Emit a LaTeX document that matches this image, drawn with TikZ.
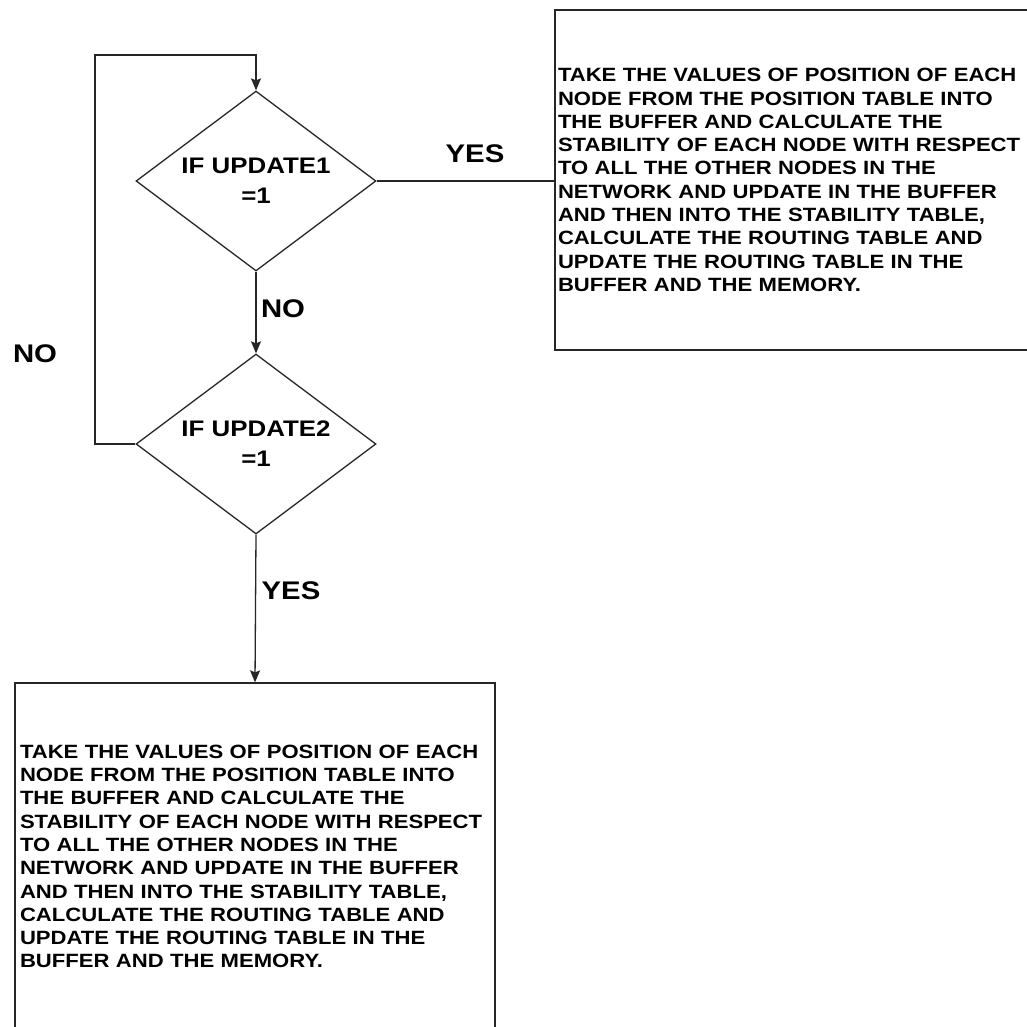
\documentclass[tikz,border=0pt]{standalone}
\usepackage{fontspec}
\newfontfamily\arb{Liberation Sans}[FakeStretch=1.15]
\usetikzlibrary{shapes.geometric,arrows.meta}
\begin{document}
\begin{tikzpicture}[x=1pt,y=-1pt,
  line/.style={draw=black!85,line width=1.3pt},
  arr/.style={line,-{Stealth[length=12pt,width=10pt,inset=2pt]}},
  decision/.style={line,shape=diamond,inner sep=0pt,minimum width=240pt,minimum height=180pt,aspect=1.333,
     align=center,font=\arb\bfseries\fontsize{22.5}{30}\selectfont},
  procbox/.style={line,rectangle,inner sep=0pt,align=left,
     font=\arb\bfseries\fontsize{19.2}{23.3}\selectfont},
  lbl/.style={inner sep=0pt,font=\arb\bfseries\fontsize{25.5}{28}\selectfont}]
\clip (0,0) rectangle (1027,1026);
\fill[white] (0,0) rectangle (1027,1026);

\node[decision] (d1) at (256,181) {IF UPDATE1\\=1};
\node[decision] (d2) at (256,444) {IF UPDATE2\\=1};

\node[procbox,minimum width=490pt,minimum height=340pt,text width=484pt,inner xsep=3pt] (b1) at (800,180)
 {TAKE THE VALUES OF POSITION OF EACH\\
  NODE FROM THE POSITION TABLE INTO\\
  THE BUFFER AND CALCULATE THE\\
  STABILITY OF EACH NODE WITH RESPECT\\
  TO ALL THE OTHER NODES IN THE\\
  NETWORK AND UPDATE IN THE BUFFER\\
  AND THEN INTO THE STABILITY TABLE,\\
  CALCULATE THE ROUTING TABLE AND\\
  UPDATE THE ROUTING TABLE IN THE\\
  BUFFER AND THE MEMORY.};

\node[procbox,minimum width=480pt,minimum height=347pt,text width=470pt,inner xsep=5pt] (b2) at (255,856.5)
 {TAKE THE VALUES OF POSITION OF EACH\\
  NODE FROM THE POSITION TABLE INTO\\
  THE BUFFER AND CALCULATE THE\\
  STABILITY OF EACH NODE WITH RESPECT\\
  TO ALL THE OTHER NODES IN THE\\
  NETWORK AND UPDATE IN THE BUFFER\\
  AND THEN INTO THE STABILITY TABLE,\\
  CALCULATE THE ROUTING TABLE AND\\
  UPDATE THE ROUTING TABLE IN THE\\
  BUFFER AND THE MEMORY.};

\coordinate (lb) at (95,444);
\coordinate (lt) at (95,55);
\coordinate (rt) at (256,55);

\draw[line] (d1.east) -- (d1.east -| b1.west);
\draw[arr] (d1.south) -- (d2.north);
\draw[arr] (d2.west) -- (lb) -- (lt) -- (rt) -- (d1.north);
\draw[arr] (d2.south) -- (b2.north);

\node[lbl] (yes1) at (475,154) {YES};
\node[lbl] (no1) at (283,309) {NO};
\node[lbl] (no2) at (35,354) {NO};
\node[lbl] (yes2) at (291,591) {YES};
\end{tikzpicture}
\end{document}
